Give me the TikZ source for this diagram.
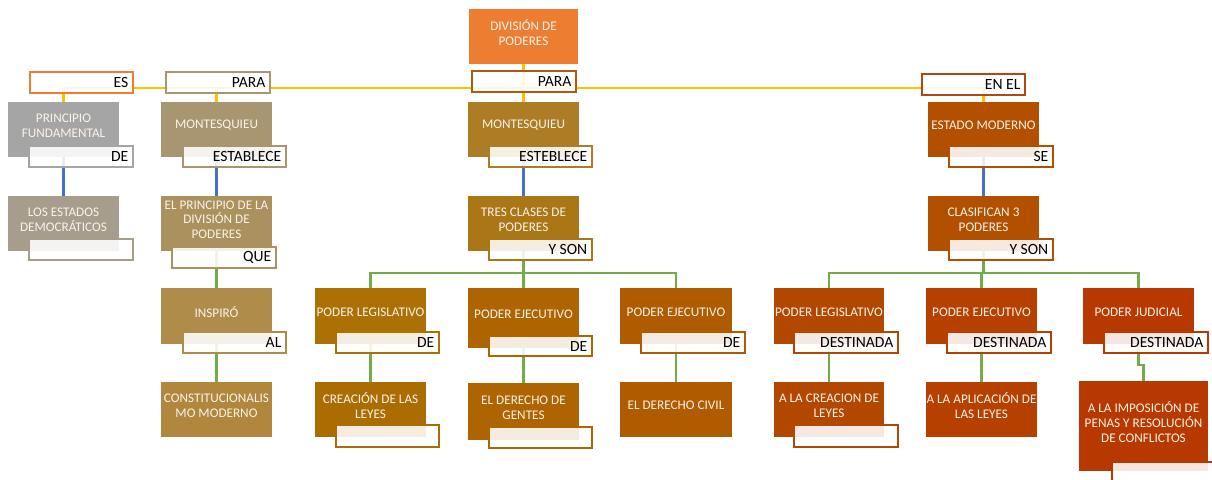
\documentclass[tikz,border=0pt]{standalone}
\usepackage{fontspec}
\setmainfont{Carlito}
\definecolor{boxtxt}{HTML}{FAF3EA}
\definecolor{lineyellow}{HTML}{FFC000}
\definecolor{lineblue}{HTML}{4472C4}
\definecolor{linegreen}{HTML}{70AD47}
\definecolor{cDiv}{HTML}{ED7D31}
\definecolor{cPF}{HTML}{A5A5A5}
\definecolor{cLED}{HTML}{A69D8D}
\definecolor{cMa}{HTML}{A89670}
\definecolor{cEPD}{HTML}{AA915E}
\definecolor{cINSP}{HTML}{B08C4A}
\definecolor{cCM}{HTML}{B0873C}
\definecolor{cMb}{HTML}{AD7D26}
\definecolor{cTCP}{HTML}{AB7615}
\definecolor{cPLa}{HTML}{AC7004}
\definecolor{cCL}{HTML}{AB6D02}
\definecolor{cPEa}{HTML}{AE6400}
\definecolor{cPEb}{HTML}{B05B00}
\definecolor{cEM}{HTML}{B25000}
\definecolor{cPLb}{HTML}{B24700}
\definecolor{cPEc}{HTML}{B54000}
\definecolor{cPJ}{HTML}{B83900}
\definecolor{cParaB}{HTML}{AC5A14}
\definecolor{cEnEl}{HTML}{B44614}
\tikzset{
  mainbox/.style={rectangle, inner sep=0pt, outer sep=0pt, anchor=north west},
  btext/.style={text=boxtxt, align=center, inner sep=0pt, font=\fontsize{13.2}{14.6}\selectfont},
  labbox/.style={rectangle, inner sep=0pt, outer sep=0pt, anchor=north west, line width=2.4pt, fill=white, fill opacity=0.88},
  labtext/.style={text=black, inner sep=0pt, anchor=east, font=\fontsize{15.6}{18}\selectfont},
  yel/.style={draw=lineyellow, line width=2.5pt},
  blu/.style={draw=lineblue, line width=2.5pt},
  grn/.style={draw=linegreen, line width=2.5pt},
}
% main box: name, x1, y1, x2, y2, colour, text
\newcommand\MBox[7]{%
  \pgfmathsetmacro\bw{#4-#2}\pgfmathsetmacro\bh{#5-#3}%
  \node[mainbox, fill=#6, minimum width=\bw pt, minimum height=\bh pt] (#1) at (#2,#3) {};
  \node[btext] (#1-t) at ({(#2+#4)/2},{(#3+#5)/2-4}) {#7};}
% label box: name, x1, y1, x2, y2, colour, text
\newcommand\LBox[7]{%
  \pgfmathsetmacro\bw{#4-#2}\pgfmathsetmacro\bh{#5-#3}%
  \node[labbox, draw=#6, minimum width=\bw pt, minimum height=\bh pt] (#1) at (#2,#3) {};
  \node[labtext] (#1-t) at ({#4-4.5},{(#3+#5)/2}) {#7};}
\newcommand\LEmpty[6]{%
  \pgfmathsetmacro\bw{#4-#2}\pgfmathsetmacro\bh{#5-#3}%
  \node[labbox, draw=#6, minimum width=\bw pt, minimum height=\bh pt] (#1) at (#2,#3) {};}
\begin{document}
\begin{tikzpicture}[x=1pt, y=-1pt]
\useasboundingbox (0,0) rectangle (1212,479);
\fill[white] (0,0) rectangle (1212,479);
\clip (0,0) rectangle (1212,479);
\coordinate (bus) at (0,88);
\coordinate (gbus) at (0,273);

% main boxes
\MBox{div}{469}{9}{578}{64}{cDiv}{DIVISIÓN DE\\PODERES}
\MBox{pf}{8}{102}{119}{157}{cPF}{PRINCIPIO\\FUNDAMENTAL}
\MBox{ma}{161}{102}{272}{157}{cMa}{MONTESQUIEU}
\MBox{mb}{468}{102}{579}{157}{cMb}{MONTESQUIEU}
\MBox{em}{928}{102}{1039}{157}{cEM}{ESTADO MODERNO}
\MBox{led}{8}{196}{119}{251}{cLED}{LOS ESTADOS\\DEMOCRÁTICOS}
\MBox{epd}{161}{196}{272}{251}{cEPD}{EL PRINCIPIO DE LA\\DIVISIÓN DE\\PODERES}
\MBox{tcp}{468}{196}{579}{251}{cTCP}{TRES CLASES DE\\PODERES}
\MBox{ctp}{928}{196}{1039}{251}{cEM}{CLASIFICAN 3\\PODERES}
\MBox{insp}{161}{288}{272}{344}{cINSP}{INSPIRÓ}
\MBox{pla}{315}{288}{426}{344}{cPLa}{PODER LEGISLATIVO}
\MBox{pea}{468}{288}{579}{348}{cPEa}{PODER EJECUTIVO}
\MBox{peb}{620}{288}{732}{344}{cPEb}{PODER EJECUTIVO}
\MBox{plb}{774}{288}{884}{344}{cPLb}{PODER LEGISLATIVO}
\MBox{pec}{926}{288}{1037}{344}{cPEc}{PODER EJECUTIVO}
\MBox{pj}{1083}{288}{1194}{344}{cPJ}{PODER JUDICIAL}
\MBox{cm}{161}{382}{272}{437}{cCM}{CONSTITUCIONALIS\\MO MODERNO}
\MBox{cl}{315}{382}{426}{437}{cCL}{CREACIÓN DE LAS\\LEYES}
\MBox{dg}{468}{383}{579}{440}{cPEa}{EL DERECHO DE\\GENTES}
\MBox{dc}{620}{382}{732}{437}{cPEb}{EL DERECHO CIVIL}
\MBox{acl}{774}{382}{884}{437}{cPLb}{A LA CREACION DE\\LEYES}
\MBox{aal}{926}{382}{1037}{437}{cPEc}{A LA APLICACIÓN DE\\LAS LEYES}
\MBox{aip}{1079}{381}{1208}{471}{cPJ}{A LA IMPOSICIÓN DE\\PENAS Y RESOLUCIÓN\\DE CONFLICTOS}

% connectors
\draw[yel] (div.south) -- (mb.north);
\draw[yel] (pf.north) |- (em.north |- bus) -- (em.north);
\draw[yel] (ma.north) -- (ma.north |- bus);
\draw[blu] (pf.south) -- (led.north);
\draw[blu] (ma.south) -- (epd.north);
\draw[blu] (mb.south) -- (tcp.north);
\draw[blu] (em.south) -- (ctp.north);
\draw[grn] (epd.south) -- (insp.north);
\draw[grn] (insp.south) -- (cm.north);
\draw[grn] (tcp.south) -- (tcp.south |- gbus);
\draw[grn] (pla.north) |- (peb.north |- gbus) -- (peb.north);
\draw[grn] (pea.north) -- (pea.north |- gbus);
\draw[grn] (ctp.south) -- (ctp.south |- gbus);
\draw[grn] (plb.north) |- (pj.north |- gbus) -- (pj.north);
\draw[grn] (pec.north) -- (pec.north |- gbus);
\draw[grn] (pla.south) -- (cl.north);
\draw[grn] (pea.south) -- (dg.north);
\draw[grn] (peb.south) -- (dc.north);
\draw[grn] (plb.south) -- (acl.north);
\draw[grn] (pec.south) -- (aal.north);
\draw[grn] (pj.south) -- ++(0,21) -| (aip.north);

% label boxes
\LBox{es}{30}{72}{133}{93}{cDiv}{ES}
\LBox{paraa}{166}{72}{270}{93}{cMa}{PARA}
\LBox{parab}{472}{71}{576}{92}{cParaB}{PARA}
\LBox{enel}{922}{74}{1025}{95}{cEnEl}{EN EL}
\LBox{dea}{29}{146}{133}{167}{cPF}{DE}
\LBox{estab}{183}{146}{286}{167}{cMa}{ESTABLECE}
\LBox{esteb}{489}{146}{592}{167}{cMb}{ESTEBLECE}
\LBox{se}{949}{146}{1053}{167}{cEM}{SE}
\LEmpty{empa}{29}{239}{133}{260}{cLED}
\LBox{que}{172}{247}{276}{268}{cEPD}{QUE}
\LBox{ysona}{489}{239}{592}{260}{cTCP}{Y SON}
\LBox{ysonb}{949}{239}{1053}{260}{cEM}{Y SON}
\LBox{al}{183}{332}{286}{353}{cINSP}{AL}
\LBox{deb}{336}{332}{439}{353}{cPLa}{DE}
\LBox{dec}{489}{336}{592}{356}{cPEa}{DE}
\LBox{ded}{641}{332}{745}{353}{cPEb}{DE}
\LBox{dsta}{794}{332}{898}{353}{cPLb}{DESTINADA}
\LBox{dstb}{947}{332}{1051}{353}{cPEc}{DESTINADA}
\LBox{dstc}{1104}{332}{1208}{353}{cPJ}{DESTINADA}
\LEmpty{empb}{336}{425}{439}{447}{cCL}
\LEmpty{empc}{489}{427}{592}{448}{cPEa}
\LEmpty{empd}{794}{425}{898}{447}{cPLb}
\LEmpty{empe}{1112}{462}{1218}{486}{cPJ}
\end{tikzpicture}
\end{document}
